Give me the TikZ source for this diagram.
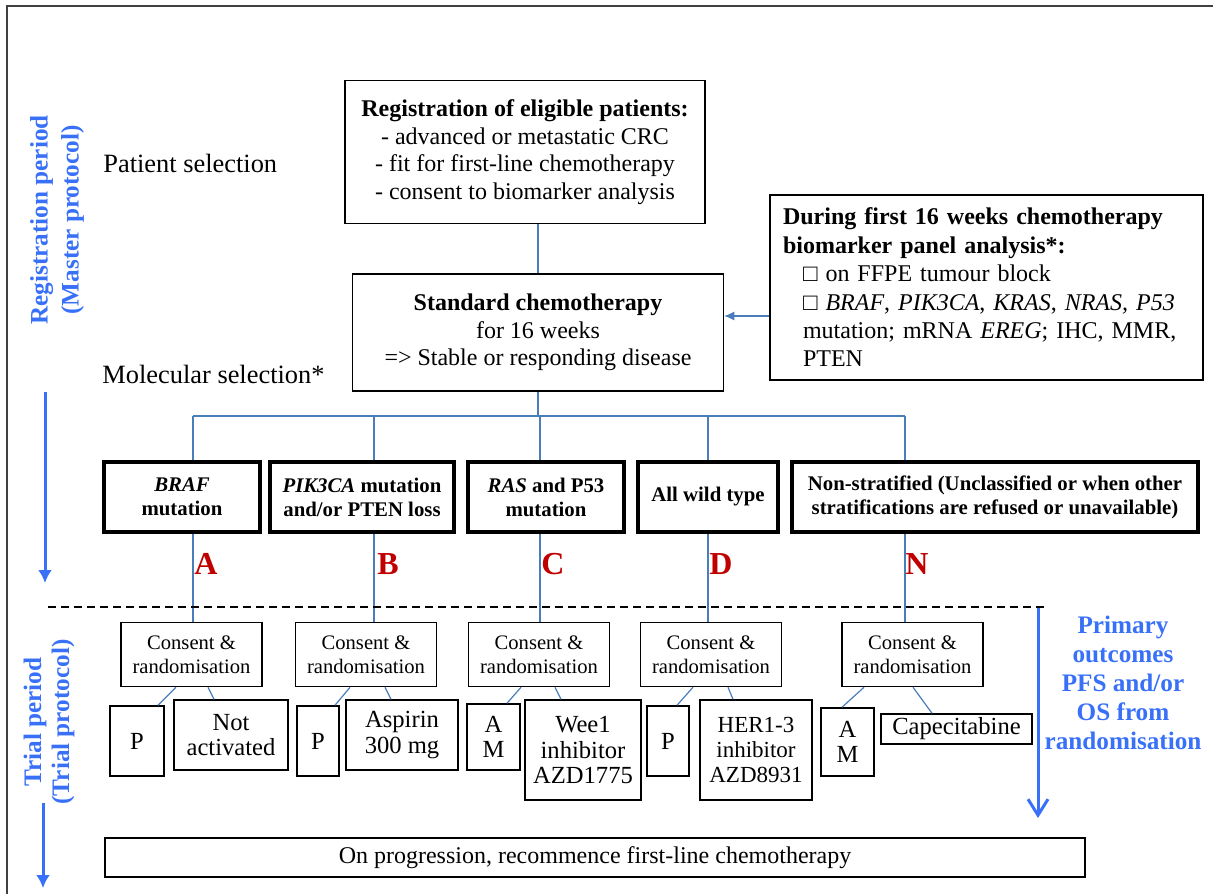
\documentclass[tikz,border=0pt]{standalone}
\usepackage{fontspec}
\setmainfont{Liberation Serif}
\usepackage{tikz}
\usetikzlibrary{arrows.meta, positioning, backgrounds, calc}
\definecolor{linkblue}{RGB}{74,126,187}
\definecolor{labelblue}{RGB}{56,112,248}
\definecolor{armred}{RGB}{192,0,0}
\definecolor{framegray}{RGB}{64,64,64}
\tikzstyle{mainbox} = [rectangle, draw=black, line width=0.75pt, fill=white, align=center, inner sep=0pt, font=\fontsize{12}{13.8}\selectfont]
\tikzstyle{stratum} = [rectangle, draw=black, line width=2pt, fill=white, align=center, inner sep=0pt, minimum height=35pt, font=\fontsize{10.4}{12}\selectfont\bfseries]
\tikzstyle{consent} = [rectangle, draw=black, line width=0.75pt, fill=white, align=center, inner sep=0pt, minimum width=70.5pt, minimum height=32pt, font=\fontsize{10.3}{12}\selectfont]
\tikzstyle{arm} = [rectangle, draw=black, line width=0.75pt, fill=white, align=center, inner sep=0pt, font=\fontsize{12.3}{12.8}\selectfont]
\tikzstyle{sidetext} = [anchor=west, inner sep=0pt, font=\fontsize{13.2}{15}\selectfont]
\tikzstyle{sidelabel} = [align=center, inner sep=0pt, text=labelblue, font=\fontsize{12.6}{15.5}\selectfont\bfseries]
\tikzstyle{armletter} = [anchor=west, inner sep=0pt, text=armred, font=\fontsize{16}{16}\selectfont\bfseries]
\tikzstyle{link} = [linkblue, line width=0.6pt]
\tikzstyle{arrow} = [link, -{Latex[length=5pt,width=4.5pt]}]
\tikzstyle{period} = [labelblue, line width=1.5pt, -{Latex[length=6.5pt,width=7pt]}]
\tikzstyle{outcome} = [labelblue, line width=1.5pt, -{Straight Barb[length=8pt,width=10pt]}]
\tikzstyle{cutline} = [black, line width=0.7pt, dash pattern=on 4pt off 2.5pt]

\begin{document}
\begin{tikzpicture}[x=0.5pt, y=-0.5pt]
    \useasboundingbox (0,0) rectangle (1213,893);
    \draw[framegray, line width=1pt] (7,905) -- (7,6) -- (1225,6);

    % Registration period
    \node (regperiod) [sidelabel, rotate=90] at (57,220) {Registration period\\(Master protocol)};
    \node (patsel) [sidetext] at (103,163) {Patient selection};
    \node (molsel) [sidetext] at (102,374) {Molecular selection*};
    \node (reg) [mainbox, minimum width=180pt, minimum height=71.5pt] at (525,152) {\textbf{Registration of eligible patients:}\\- advanced or metastatic CRC\\- fit for first-line chemotherapy\\- consent to biomarker analysis};
    \node (chemo) [mainbox, minimum width=185.5pt, minimum height=58.5pt] at (538,332.5) {\textbf{Standard chemotherapy}\\for 16 weeks\\=> Stable or responding disease};
    \node (bio) [mainbox, minimum width=216.5pt, minimum height=92.5pt, text width=203.5pt, align=left, font=\fontsize{12}{14.2}\selectfont] at (986.5,287.5) {\textbf{During first 16 weeks chemotherapy}\\\textbf{biomarker panel analysis*:}\\\hspace*{10pt}□ on FFPE tumour block\\\hspace*{10pt}□ \textit{BRAF}, \textit{PIK3CA}, \textit{KRAS}, \textit{NRAS, P53}\\\hspace*{10pt}mutation; mRNA \textit{EREG}; IHC, MMR,\\\hspace*{10pt}PTEN};

    % Strata
    \node (strA) [stratum, minimum width=78pt] at (182,497) {\textit{BRAF}\\mutation};
    \node (strB) [stratum, minimum width=92pt] at (362,497) {\textit{PIK3CA} mutation\\and/or PTEN loss};
    \node (strC) [stratum, minimum width=78pt] at (546,497) {\textit{RAS} and P53\\mutation};
    \node (strD) [stratum, minimum width=70pt] at (708,497) {All wild type};
    \node (strN) [stratum, minimum width=203pt] at (995,497) {Non-stratified (Unclassified or when other\\stratifications are refused or unavailable)};

    \node (letA) [armletter] at (194,564) {A};
    \node (letB) [armletter] at (377,564) {B};
    \node (letC) [armletter] at (541,564) {C};
    \node (letD) [armletter] at (709,564) {D};
    \node (letN) [armletter] at (905,564) {N};

    % Trial period
    \node (trialperiod) [sidelabel, rotate=90, font=\fontsize{12.6}{14}\selectfont\bfseries] at (49,722) {Trial period\\(Trial protocol)};
    \node (consA) [consent] at (191.5,654.5) {Consent \&\\randomisation};
    \node (consB) [consent] at (366,654.5) {Consent \&\\randomisation};
    \node (consC) [consent] at (539,654.5) {Consent \&\\randomisation};
    \node (consD) [consent] at (711,654.5) {Consent \&\\randomisation};
    \node (consN) [consent] at (912.5,654.5) {Consent \&\\randomisation};

    \node (pA) [arm, minimum width=27pt, minimum height=35pt] at (137,741) {P};
    \node (notA) [arm, minimum width=57pt, minimum height=35pt] at (231,735) {Not\\activated};
    \node (pB) [arm, minimum width=21pt, minimum height=35pt] at (318,741) {P};
    \node (asp) [arm, minimum width=56pt, minimum height=35pt] at (402,735) {Aspirin\\300 mg};
    \node (amC) [arm, minimum width=26.5pt, minimum height=33pt] at (493.5,737) {A\\M};
    \node (wee) [arm, minimum width=58pt, minimum height=50pt] at (583,750) {Wee1\\inhibitor\\AZD1775};
    \node (pD) [arm, minimum width=21pt, minimum height=35pt] at (668,741) {P};
    \node (her) [arm, minimum width=56pt, minimum height=50pt, font=\fontsize{11.5}{12.5}\selectfont] at (756,750) {HER1-3\\inhibitor\\AZD8931};
    \node (amN) [arm, minimum width=26.5pt, minimum height=34pt] at (847.5,742) {A\\M};
    \node (cap) [arm, minimum width=75.5pt, minimum height=15pt] at (956.5,729) {Capecitabine};

    \node (prog) [mainbox, minimum width=490pt, minimum height=19.5pt] at (595,857.5) {On progression, recommence first-line chemotherapy};
    \node (primary) [sidelabel, font=\fontsize{12.6}{14.5}\selectfont\bfseries] at (1123,683) {Primary\\outcomes\\PFS and/or\\OS from\\randomisation};

    % --- Arrows and lines ---
    \coordinate (regtop) at (45,392);
    \coordinate (regbot) at (45,583);
    \coordinate (trialtop) at (43,803);
    \coordinate (trialbot) at (43,888);
    \coordinate (outtop) at (1038,607);
    \coordinate (outbot) at (1038,818);
    \draw[period] (regtop) -- (regbot);
    \draw[period] (trialtop) -- (trialbot);
    \draw[outcome] (outtop) -- (outbot);
    \draw[cutline] (48,607) -- (1044,607);

    \draw[link] (chemo.north) -- (chemo.north |- reg.south);
    \coordinate (bioin) at ($(chemo.east)+(0,-16.5)$);
    \draw[arrow] (bio.west |- bioin) -- (bioin);

    \begin{scope}[on background layer]
        \coordinate (hA) at (193,416);
        \coordinate (hB) at (374,416);
        \coordinate (hC) at (540,416);
        \coordinate (hD) at (708,416);
        \coordinate (hN) at (905,416);
        \draw[link] (hA) -- (hN);
        \draw[link] (chemo.south) -- (chemo.south |- hC);
        \foreach \b in {A,B,C,D,N}
            \draw[link] (h\b) -- (h\b |- cons\b.north);
    \end{scope}

    % consent -> arms
    \draw[link] (consA.south -| 176,0) -- (pA.north -| 158,0);
    \draw[link] (consA.south -| 208,0) -- (notA.north -| 214,0);
    \draw[link] (consB.south -| 350,0) -- (pB.north -| 335,0);
    \draw[link] (consB.south -| 385,0) -- (asp.north -| 391,0);
    \draw[link] (consC.south -| 521,0) -- (amC.north -| 507,0);
    \draw[link] (consC.south -| 555,0) -- (wee.north -| 561,0);
    \draw[link] (consD.south -| 693,0) -- (pD.north -| 677,0);
    \draw[link] (consD.south -| 728,0) -- (her.north -| 733,0);
    \draw[link] (consN.south -| 864,0) -- (amN.north -| 842,0);
    \draw[link] (consN.south -| 913,0) -- (cap.north -| 932,0);

\end{tikzpicture}
\end{document}
